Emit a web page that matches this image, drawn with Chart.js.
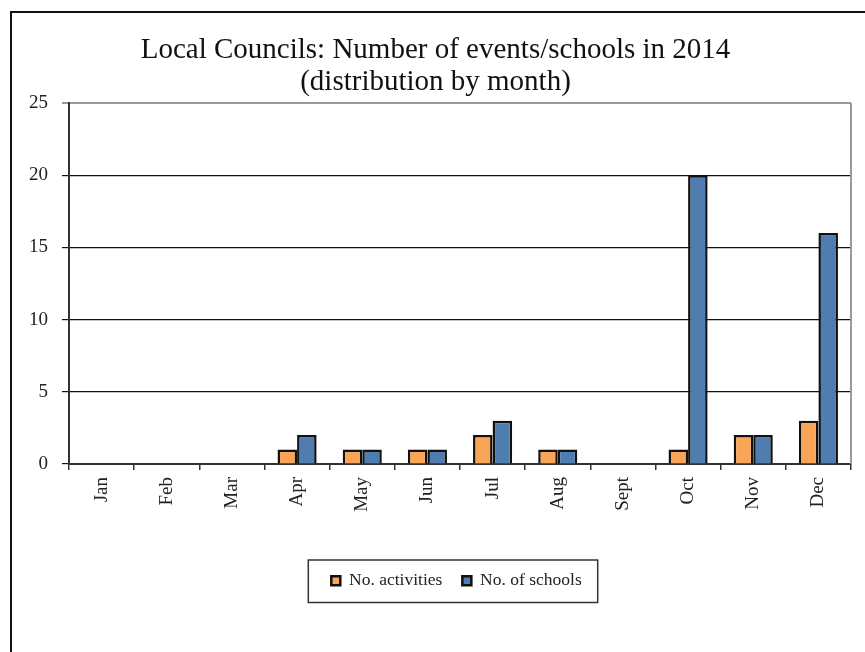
<!DOCTYPE html>
<html>
<head>
<meta charset="utf-8">
<script src="https://cdn.jsdelivr.net/npm/chart.js@4"></script>
<style>
  html, body { margin: 0; padding: 0; background: #fff; }
  #wrap { position: relative; width: 865px; height: 652px; overflow: hidden; }
  #frame { position: absolute; left: 10px; top: 11px; width: 900px; height: 700px;
           border-left: 2px solid #111; border-top: 2px solid #111; }
  canvas { position: absolute; left: 0; top: 0; }
</style>
</head>
<body>
<div id="wrap">
  <div id="frame"></div>
  <canvas id="myChart" width="865" height="652"></canvas>
</div>
<script>
  const months = ["Jan", "Feb", "Mar", "Apr", "May", "Jun", "Jul", "Aug", "Sept", "Oct", "Nov", "Dec"];
  const activities = [0, 0, 0, 1, 1, 1, 2, 1, 0, 1, 2, 3];
  const schools = [0, 0, 0, 2, 1, 1, 3, 1, 0, 20, 2, 16];
  const yTicks = [0, 5, 10, 15, 20, 25];

  const serif = "'Liberation Serif', 'DejaVu Serif', serif";

  // legend sits under the plot area, not the whole canvas; boxed legend; grey right border
  const extras = {
    id: "extras",
    afterUpdate(chart) {
      const lg = chart.legend;
      const dx = 21;
      lg.left += dx;
      lg.right += dx;
      (lg.legendHitBoxes || []).forEach(b => { b.left += dx; });
    },
    afterDraw(chart) {
      const ctx = chart.ctx;
      const area = chart.chartArea;
      ctx.save();
      ctx.strokeStyle = "#9a9a9a";
      ctx.lineWidth = 2;
      ctx.beginPath();
      ctx.moveTo(area.right, area.top);
      ctx.lineTo(area.right, area.bottom);
      ctx.stroke();

      const boxes = chart.legend.legendHitBoxes;
      if (boxes && boxes.length) {
        let l = Math.min(...boxes.map(b => b.left));
        let r = Math.max(...boxes.map(b => b.left + b.width));
        let t = Math.min(...boxes.map(b => b.top));
        let b2 = Math.max(...boxes.map(b => b.top + b.height));
        ctx.strokeStyle = "#333";
        ctx.lineWidth = 1.5;
        ctx.strokeRect(l - 23, t - 12, (r - l) + 39, (b2 - t) + 25);
      }
      ctx.restore();
    }
  };

  new Chart(document.getElementById("myChart"), {
    type: "bar",
    plugins: [extras],
    data: {
      labels: months,
      datasets: [
        {
          label: "No. activities",
          data: activities,
          backgroundColor: "#F9A557",
          borderColor: "#111",
          borderWidth: 2.5,
          borderSkipped: "start",
        },
        {
          label: "No. of schools",
          data: schools,
          backgroundColor: "#4F7DAF",
          borderColor: "#111",
          borderWidth: 2.5,
          borderSkipped: "start",
        },
      ],
    },
    options: {
      responsive: false,
      animation: false,
      layout: { padding: { left: 20, right: 14, bottom: 52.5, top: 0 } },
      datasets: { bar: { categoryPercentage: 0.6, barPercentage: 1 } },
      plugins: {
        title: {
          display: true,
          text: ["Local Councils: Number of events/schools in 2014", "(distribution by month)"],
          color: "#111",
          font: { family: serif, size: 29, weight: "normal", lineHeight: 1.12 },
          padding: { top: 34, bottom: 4 },
        },
        legend: {
          position: "bottom",
          labels: {
            color: "#222",
            font: { family: serif, size: 17.5 },
            boxWidth: 9,
            boxHeight: 9,
            padding: 20,
            useBorderRadius: false,
          },
        },
        tooltip: { enabled: false },
      },
      scales: {
        x: {
          afterFit: (scale) => { scale.height = 88; },
          grid: { offset: true, drawOnChartArea: false, drawTicks: true, tickLength: 6, color: "#333", lineWidth: 1.5 },
          border: { color: "#333", width: 2 },
          ticks: { color: "#222", minRotation: 90, maxRotation: 90, font: { family: serif, size: 19 }, padding: 7 },
        },
        y: {
          min: 0,
          max: 25,
          afterFit: (scale) => { scale.width = 49; },
          afterBuildTicks: (scale) => { scale.ticks = yTicks.map(v => ({ value: v })); },
          grid: {
            color: (c) => (c.tick && c.tick.value === 25 ? "#9a9a9a" : "#111"),
            lineWidth: (c) => (c.tick && c.tick.value === 25 ? 2 : 1.2),
            tickLength: 7,
          },
          border: { color: "#333", width: 2 },
          ticks: { color: "#222", font: { family: serif, size: 19 }, padding: 14 },
        },
      },
    },
  });
</script>
</body>
</html>
